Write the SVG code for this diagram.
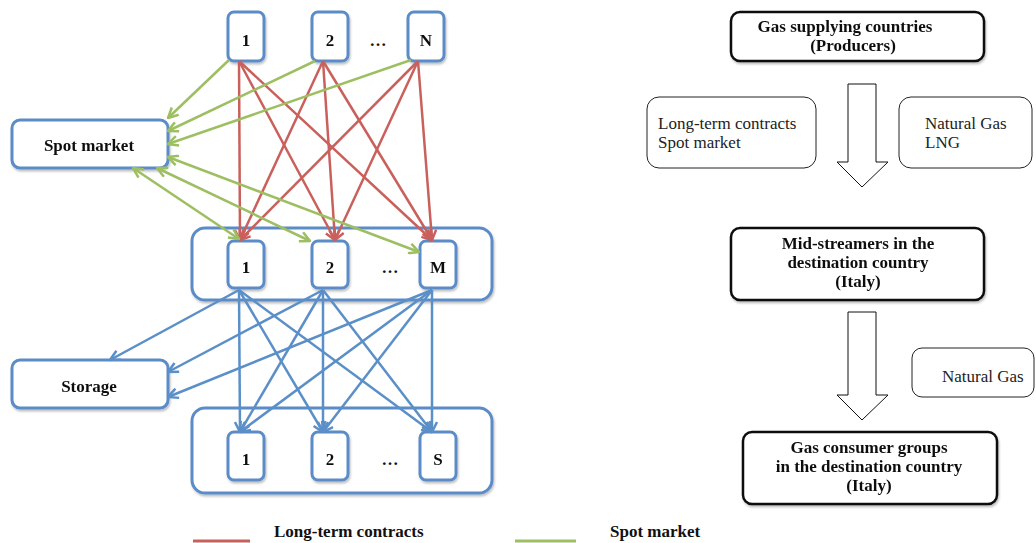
<svg xmlns="http://www.w3.org/2000/svg" width="1036" height="543" viewBox="0 0 1036 543">
<style>
.bx{fill:#fff;stroke:#5b8cc8;stroke-width:3}
.bk{fill:#fff;stroke:#111;stroke-width:2.5}
.th{fill:#fff;stroke:#222;stroke-width:1}
.b{font-family:"Liberation Serif",serif;font-weight:bold;font-size:17px;fill:#111;text-anchor:middle}
.r{font-family:"Liberation Serif",serif;font-size:17px;fill:#222}
.red{stroke:#c9605c;stroke-width:2.5;fill:none;marker-end:url(#mr)}
.grn{stroke:#9dbf62;stroke-width:2.5;fill:none;marker-end:url(#mg)}
.grn2{stroke:#9dbf62;stroke-width:2.5;fill:none;marker-end:url(#mg);marker-start:url(#mg)}
.blu{stroke:#5b8fc8;stroke-width:2.5;fill:none;marker-end:url(#mb)}
</style>
<defs>
<filter id="sh" x="-10%" y="-10%" width="130%" height="140%">
<feDropShadow dx="1" dy="2" stdDeviation="1.2" flood-color="#000" flood-opacity="0.25"/>
</filter>
<marker id="mr" viewBox="0 0 12 12" refX="11" refY="6" markerWidth="12" markerHeight="12" markerUnits="userSpaceOnUse" orient="auto-start-reverse"><path d="M1,1 L11,6 L1,11" fill="none" stroke="#c9605c" stroke-width="2.5"/></marker>
<marker id="mg" viewBox="0 0 12 12" refX="11" refY="6" markerWidth="12" markerHeight="12" markerUnits="userSpaceOnUse" orient="auto-start-reverse"><path d="M1,1 L11,6 L1,11" fill="none" stroke="#9dbf62" stroke-width="2.5"/></marker>
<marker id="mb" viewBox="0 0 12 12" refX="11" refY="6" markerWidth="12" markerHeight="12" markerUnits="userSpaceOnUse" orient="auto-start-reverse"><path d="M1,1 L11,6 L1,11" fill="none" stroke="#5b8fc8" stroke-width="2.5"/></marker>
</defs>

<g id="containers" filter="url(#sh)">
<rect id="mid-container" class="bx" x="192" y="228" width="300" height="72" rx="13"/>
<rect id="bottom-container" class="bx" x="192" y="408" width="300" height="85" rx="13"/>
</g>

<g id="spot-market" filter="url(#sh)"><rect class="bx" x="12" y="120" width="156" height="48" rx="8"/><text class="b" x="89" y="151">Spot market</text></g>
<g id="storage" filter="url(#sh)"><rect class="bx" x="12" y="360" width="156" height="48" rx="8"/><text class="b" x="89" y="392">Storage</text></g>

<g id="prod-1" filter="url(#sh)"><rect class="bx" x="228" y="12" width="36" height="49" rx="6"/><text class="b" x="246" y="46">1</text></g>
<g id="prod-2" filter="url(#sh)"><rect class="bx" x="312" y="12" width="36" height="49" rx="6"/><text class="b" x="330" y="46">2</text></g>
<g id="prod-N" filter="url(#sh)"><rect class="bx" x="408" y="12" width="36" height="49" rx="6"/><text class="b" x="426" y="46">N</text></g>
<text class="b" x="378" y="46">…</text>

<g id="mid-1" filter="url(#sh)"><rect class="bx" x="228" y="241" width="36" height="47" rx="6"/><text class="b" x="246" y="273">1</text></g>
<g id="mid-2" filter="url(#sh)"><rect class="bx" x="312" y="241" width="36" height="47" rx="6"/><text class="b" x="330" y="273">2</text></g>
<g id="mid-M" filter="url(#sh)"><rect class="bx" x="420" y="241" width="36" height="47" rx="6"/><text class="b" x="438" y="273">M</text></g>
<text class="b" x="390" y="273">…</text>

<g id="cons-1" filter="url(#sh)"><rect class="bx" x="228" y="432" width="36" height="48" rx="6"/><text class="b" x="246" y="465">1</text></g>
<g id="cons-2" filter="url(#sh)"><rect class="bx" x="312" y="432" width="36" height="48" rx="6"/><text class="b" x="330" y="465">2</text></g>
<g id="cons-S" filter="url(#sh)"><rect class="bx" x="420" y="432" width="36" height="48" rx="6"/><text class="b" x="438" y="465">S</text></g>
<text class="b" x="390" y="465">…</text>

<g id="connectors">
<path class="red" d="M239,61 L240,240"/>
<path class="red" d="M239,61 L335,240"/>
<path class="red" d="M239,61 L432,240"/>
<path class="red" d="M323,61 L240,240"/>
<path class="red" d="M323,61 L335,240"/>
<path class="red" d="M323,61 L432,240"/>
<path class="red" d="M418,61 L240,240"/>
<path class="red" d="M418,61 L335,240"/>
<path class="red" d="M418,61 L432,240"/>
<path class="grn" d="M229,60 L168,118"/>
<path class="grn" d="M315,61 L168,131"/>
<path class="grn" d="M411,60 L168,144"/>
<path class="grn2" d="M133,168 L239,239"/>
<path class="grn2" d="M157,168 L310,241"/>
<path class="grn2" d="M168,157 L419,252"/>
<path class="blu" d="M239,290 L110,360"/>
<path class="blu" d="M323,290 L168,372"/>
<path class="blu" d="M432,290 L168,397"/>
<path class="blu" d="M239,290 L240,432"/>
<path class="blu" d="M239,290 L323,432"/>
<path class="blu" d="M239,290 L432,432"/>
<path class="blu" d="M323,290 L240,432"/>
<path class="blu" d="M323,290 L323,432"/>
<path class="blu" d="M323,290 L432,432"/>
<path class="blu" d="M432,290 L240,432"/>
<path class="blu" d="M432,290 L323,432"/>
<path class="blu" d="M432,290 L432,432"/>
</g>

<g id="legend">
<line x1="193" y1="541" x2="250" y2="541" stroke="#c9605c" stroke-width="3"/>
<text class="b" x="274" y="537" style="text-anchor:start">Long-term contracts</text>
<line x1="515" y1="541" x2="576" y2="541" stroke="#9dbf62" stroke-width="3"/>
<text class="b" x="610" y="537" style="text-anchor:start">Spot market</text>
</g>

<g id="producers" filter="url(#sh)"><rect class="bk" x="731" y="12" width="253" height="49" rx="9"/>
<text class="b" x="845" y="32">Gas supplying countries</text><text class="b" x="853" y="51">(Producers)</text></g>
<g id="info-contracts"><rect class="th" x="647" y="97" width="169" height="71" rx="12"/>
<text class="r" x="658" y="129">Long-term contracts</text><text class="r" x="658" y="148">Spot market</text></g>
<g id="info-gas"><rect class="th" x="899" y="97" width="133" height="71" rx="12"/>
<text class="r" x="925" y="129">Natural Gas</text><text class="r" x="925" y="148">LNG</text></g>
<g id="arrow1"><polygon points="848,84 876,84 876,162 888,162 862,187 837,162 848,162" fill="#fff" stroke="#111" stroke-width="1"/></g>
<g id="midstreamers" filter="url(#sh)"><rect class="bk" x="731" y="228" width="253" height="72" rx="9"/>
<text class="b" x="858" y="249">Mid-streamers in the</text><text class="b" x="858" y="268">destination country</text><text class="b" x="858" y="287">(Italy)</text></g>
<g id="arrow2"><polygon points="848,312 876,312 876,395 888,395 862,420 837,395 848,395" fill="#fff" stroke="#111" stroke-width="1"/></g>
<g id="info-natgas"><rect class="th" x="912" y="348" width="122" height="49" rx="10"/>
<text class="r" x="942" y="382">Natural Gas</text></g>
<g id="consumers" filter="url(#sh)"><rect class="bk" x="743" y="432" width="254" height="72" rx="9"/>
<text class="b" x="869" y="453">Gas consumer groups</text><text class="b" x="869" y="472">in the destination country</text><text class="b" x="869" y="491">(Italy)</text></g>
</svg>
